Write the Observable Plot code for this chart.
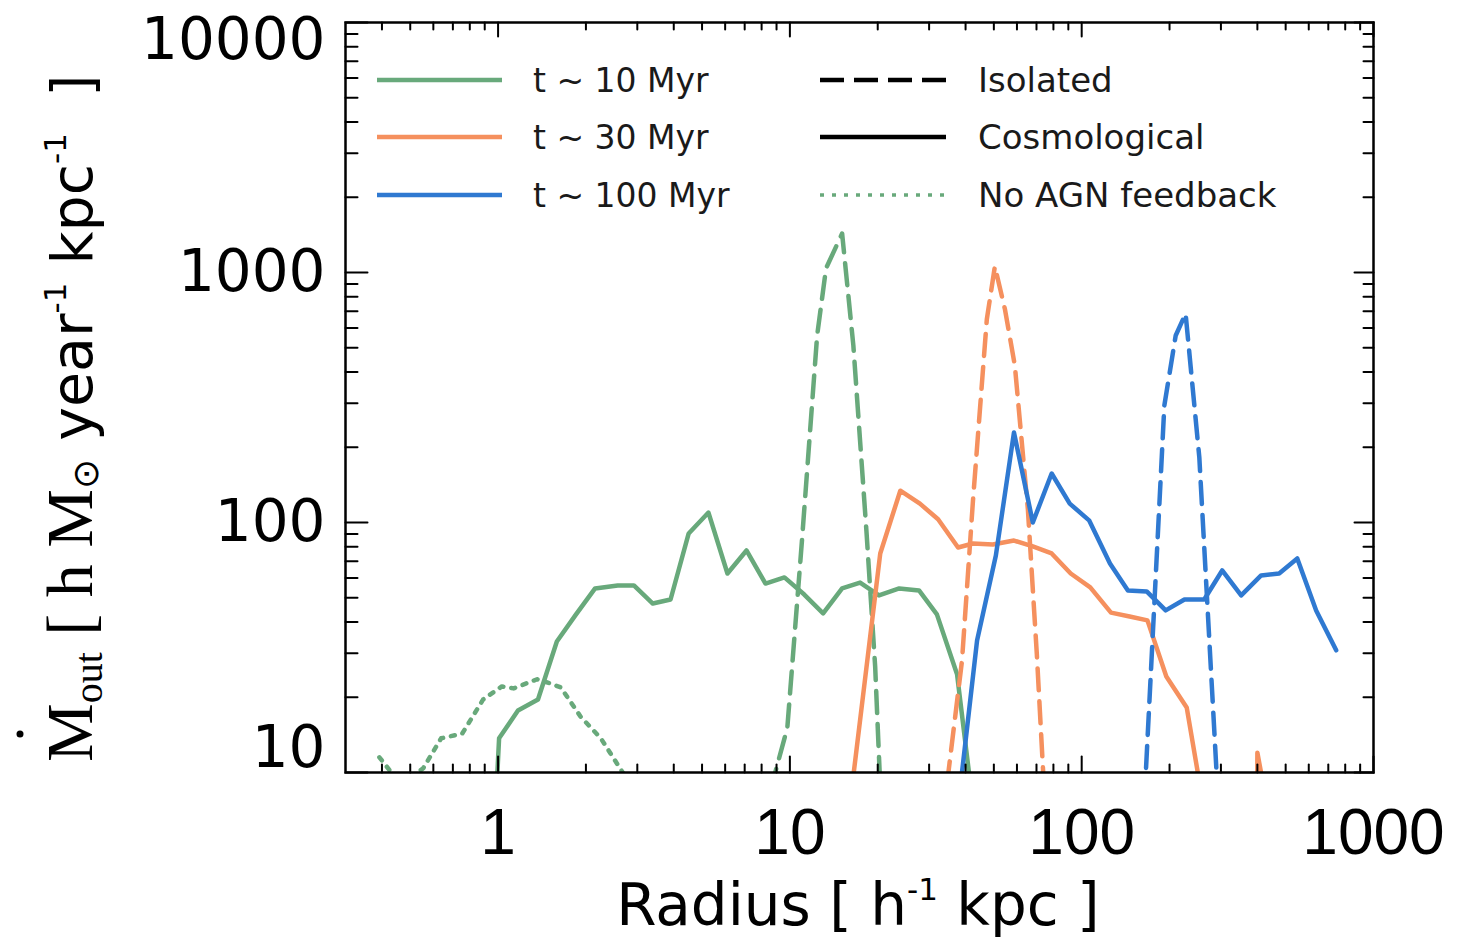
<!DOCTYPE html>
<html><head><meta charset="utf-8">
<script src="https://cdn.jsdelivr.net/npm/d3@7"></script>
<script src="https://cdn.jsdelivr.net/npm/@observablehq/plot@0.6"></script>
<style>
body{margin:0;background:#fff;}
#chart{position:relative;width:1460px;height:939px;}
</style>
</head><body><div id="chart"></div>
<script>
// ---------- data (radius in h^-1 kpc, outflow rate in h Msun / yr / kpc) ----------
const seriesNames = ["t ~ 10 Myr", "t ~ 30 Myr", "t ~ 100 Myr"];
const seriesColors = ["#68a97b", "#f5905e", "#2f79d1"];
const styleNames = ["Isolated", "Cosmological", "No AGN feedback"];

// t ~ 10 Myr
const r10Cosmo = [0.946, 1.008, 1.17, 1.37, 1.59, 1.85, 2.15, 2.57, 2.92, 3.39, 3.90, 4.50, 5.26, 6.11, 7.10, 8.25, 9.58, 11.2, 13.0, 15.1, 17.4, 20.2, 23.7, 27.7, 31.9, 37.4, 43.4];
const m10Cosmo = [3.1, 13.7, 17.7, 19.6, 33.4, 42.9, 54.5, 56.0, 56.0, 47.4, 49.2, 90.4, 109.6, 62.5, 77.3, 57.0, 60.3, 51.5, 43.3, 54.5, 57.5, 51.1, 54.5, 53.5, 42.9, 24.7, 5.9];
const r10Iso = [8.58, 9.80, 11.0, 12.4, 13.3, 15.1, 16.5, 18.3, 19.6, 20.7];
const m10Iso = [8.5, 15.1, 84.7, 560, 1038, 1432, 511, 92.0, 26.5, 5.9];
const r10NoAGN = [0.392, 0.466, 0.554, 0.638, 0.753, 0.889, 1.03, 1.13, 1.36, 1.48, 1.64, 1.92, 2.25, 2.85];
const m10NoAGN = [11.5, 8.9, 10.4, 13.7, 14.3, 19.6, 22.1, 21.7, 23.6, 22.9, 21.9, 16.7, 13.7, 8.9];

// t ~ 30 Myr
const r30Cosmo = [15.5, 20.4, 23.9, 27.9, 32.2, 37.7, 42.4, 49.6, 58.6, 68.0, 78.9, 91.7, 107, 126, 146, 168, 195, 229, 270, 394, 400, 475];
const m30Cosmo = [5.3, 75.2, 134, 119, 103, 79.4, 82.4, 81.7, 84.7, 80.2, 75.2, 62.5, 55.0, 43.6, 42.1, 40.6, 24.2, 18.2, 5.9, 0.49, 12.0, 4.06];
const r30Iso = [33.5, 38.9, 42.4, 47.3, 50.4, 54.6, 59.0, 65.4, 70.2, 74.7];
const m30Iso = [6.7, 28.1, 122, 649, 1057, 711, 425, 113, 29.6, 7.7];

// t ~ 100 Myr
const r100Cosmo = [37.7, 43.8, 50.8, 58.6, 68.0, 78.9, 91.0, 106, 125, 144, 167, 194, 225, 263, 303, 352, 412, 475, 548, 636, 745];
const m100Cosmo = [7.3, 33.7, 73.8, 229, 100, 157, 119, 102, 68.5, 53.5, 53.0, 44.5, 49.2, 49.2, 64.3, 51.1, 61.4, 62.5, 71.8, 44.5, 30.8];
const r100Iso = [164, 192, 210, 227, 253, 296];
const m100Iso = [7.7, 294, 560, 685, 182, 6.4];

// axes
const xTicks = [1, 10, 100, 1000];
const xTickLabels = ["1", "10", "100", "1000"];
const yTicks = [10, 100, 1000, 10000];
const yTickLabels = ["10", "100", "1000", "10000"];
const xDomain = [0.3, 1000];
const yDomain = [10, 10000];

// ---------- build ----------
const rows = (r, m) => r.map((d, i) => ({r: d, m: m[i]}));
const minorOf = (lo, hi, majors) => {
  const out = [];
  for (let e = -2; e <= 4; e++) for (let k = 1; k <= 9; k++) {
    const v = k * Math.pow(10, e);
    if (v > lo * 1.0001 && v < hi * 0.9999 && !majors.includes(+v.toPrecision(6))) out.push(v);
  }
  return out;
};
const xMinor = minorOf(xDomain[0], xDomain[1], xTicks);
const yMinor = minorOf(yDomain[0], yDomain[1], yTicks);

const tickShape = {draw(ctx, l) { ctx.moveTo(0, 0); ctx.lineTo(0, -l); }};
const tickMark = (data, opts) => Plot.vector(data, {anchor: "start", shape: tickShape, stroke: "black", strokeWidth: 2, ...opts});

const DASH = "22,11", DOT = "4,8", LW = 4.5;
const line = (r, m, i, dash) => Plot.line(rows(r, m), {x: "r", y: "m", stroke: seriesColors[i], strokeWidth: LW, strokeDasharray: dash, strokeLinejoin: "round", clip: true});

const sansTick = "Liberation Sans, Arial, sans-serif";
const sansY = "DejaVu Sans, sans-serif";

const plot = Plot.plot({
  width: 1460, height: 939,
  marginLeft: 345, marginRight: 87, marginTop: 22, marginBottom: 167,
  x: {type: "log", domain: xDomain, axis: null},
  y: {type: "log", domain: yDomain, axis: null},
  style: {background: "white", overflow: "visible"},
  marks: [
    line(r10NoAGN, m10NoAGN, 0, DOT),
    line(r10Cosmo, m10Cosmo, 0, null),
    line(r10Iso, m10Iso, 0, DASH),
    line(r30Cosmo, m30Cosmo, 1, null),
    line(r30Iso, m30Iso, 1, DASH),
    line(r100Cosmo, m100Cosmo, 2, null),
    line(r100Iso, m100Iso, 2, DASH),
    Plot.frame({stroke: "black", strokeWidth: 2.5}),
    // bottom / top ticks
    tickMark(xTicks, {x: d => d, y: () => yDomain[0], length: 16, rotate: 0}),
    tickMark(xMinor, {x: d => d, y: () => yDomain[0], length: 8, rotate: 0}),
    tickMark(xTicks, {x: d => d, y: () => yDomain[1], length: 14, rotate: 180}),
    tickMark(xMinor, {x: d => d, y: () => yDomain[1], length: 7, rotate: 180}),
    // left / right ticks
    tickMark(yTicks, {y: d => d, x: () => xDomain[0], length: 22, rotate: 90}),
    tickMark(yMinor, {y: d => d, x: () => xDomain[0], length: 12, rotate: 90}),
    tickMark(yTicks, {y: d => d, x: () => xDomain[1], length: 19, rotate: 270}),
    tickMark(yMinor, {y: d => d, x: () => xDomain[1], length: 10, rotate: 270}),
    // tick labels
    Plot.text(xTicks, {x: d => d, frameAnchor: "bottom", dy: 61, text: (d, i) => xTickLabels[i], fontSize: 64, fontFamily: sansTick, lineAnchor: "middle", fill: "black"}),
    Plot.text(yTicks.slice(1, 3), {y: d => d, frameAnchor: "left", dx: -20, textAnchor: "end", text: (d, i) => yTickLabels[i + 1], fontSize: 58, fontFamily: sansY, lineAnchor: "middle", fill: "black"}),
    Plot.text(yTicks.slice(0, 1), {y: d => d, frameAnchor: "left", dx: -20, dy: -24, textAnchor: "end", text: () => yTickLabels[0], fontSize: 58, fontFamily: sansY, lineAnchor: "middle", fill: "black"}),
    Plot.text(yTicks.slice(3), {y: d => d, frameAnchor: "left", dx: -20, dy: 18, textAnchor: "end", text: () => yTickLabels[3], fontSize: 58, fontFamily: sansY, lineAnchor: "middle", fill: "black"})
  ]
});

const svg = d3.select(plot);

// ---------- legend ----------
const legFont = "DejaVu Sans, sans-serif";
const legRows = [80, 137, 195];
const lg = svg.append("g").attr("class", "legend").attr("text-anchor", "start");
seriesNames.forEach((name, i) => {
  lg.append("line").attr("x1", 377).attr("x2", 502).attr("y1", legRows[i]).attr("y2", legRows[i])
    .attr("stroke", seriesColors[i]).attr("stroke-width", LW);
  lg.append("text").attr("x", 533).attr("y", legRows[i]).attr("dy", "0.36em").attr("text-anchor", "start")
    .attr("font-family", legFont).attr("font-size", 33).attr("fill", "#1a1a1a").text(name);
});
const legDash = ["24,10", null, DOT];
const legStroke = ["black", "black", seriesColors[0]];
styleNames.forEach((name, i) => {
  lg.append("line").attr("x1", 820).attr("x2", 946).attr("y1", legRows[i]).attr("y2", legRows[i])
    .attr("stroke", legStroke[i]).attr("stroke-width", i === 2 ? 3.5 : LW)
    .attr("stroke-dasharray", legDash[i]);
  lg.append("text").attr("x", 978).attr("y", legRows[i]).attr("dy", "0.36em").attr("text-anchor", "start")
    .attr("font-family", legFont).attr("font-size", 34).attr("fill", "#1a1a1a").text(name);
});

// ---------- axis titles ----------
const xt = svg.append("text").attr("x", 858).attr("y", 925).attr("text-anchor", "middle")
  .attr("font-family", legFont).attr("font-size", 58).attr("fill", "black");
xt.append("tspan").text("Radius [ h");
xt.append("tspan").attr("font-size", 31).attr("dy", -25).text("-1");
xt.append("tspan").attr("dy", 25).text(" kpc ]");

const serif = "Liberation Serif, Times New Roman, serif";
const yg = svg.append("g").attr("transform", "translate(92,762) rotate(-90)");
const yt = yg.append("text").attr("x", 0).attr("y", 0).attr("text-anchor", "start").attr("fill", "black");
yt.append("tspan").attr("font-family", serif).attr("font-size", 66).text("M");
yt.append("tspan").attr("font-family", serif).attr("font-size", 40).attr("dy", 10).text("out");
yt.append("tspan").attr("font-family", serif).attr("font-size", 66).attr("dy", -10).text(" [ h M");
yt.append("tspan").attr("font-family", sansY).attr("font-size", 36).attr("dy", 6).text("⊙");
yt.append("tspan").attr("font-family", sansY).attr("font-size", 57).attr("dy", -6).text(" year");
yt.append("tspan").attr("font-family", sansY).attr("font-size", 31).attr("dy", -26).text("-1");
yt.append("tspan").attr("font-family", sansY).attr("font-size", 57).attr("dy", 26).text(" kpc");
yt.append("tspan").attr("font-family", sansY).attr("font-size", 31).attr("dy", -26).text("-1");
yt.append("tspan").attr("font-family", sansY).attr("font-size", 57).attr("dy", 26).text("  ]");
yg.append("circle").attr("cx", 28).attr("cy", -72).attr("r", 3.5).attr("fill", "black");

document.getElementById("chart").appendChild(plot);
</script>
</body></html>
